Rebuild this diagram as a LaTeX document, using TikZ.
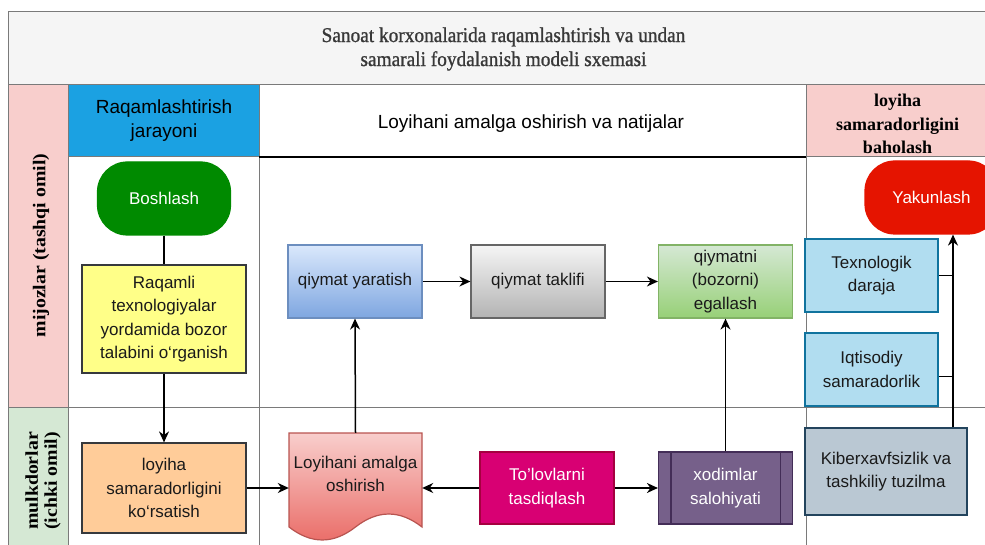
\documentclass[tikz,border=0pt]{standalone}
\usepackage{fontspec}
\setmainfont{Liberation Sans}
\newfontfamily\titlefont[FakeStretch=0.92,FakeBold=1]{Liberation Serif}
\newfontfamily\headfont{Liberation Serif}
\newfontfamily\lanefont[FakeStretch=1.1]{Liberation Serif}
\usetikzlibrary{arrows.meta}

\definecolor{titlefill}{HTML}{F5F5F5}
\definecolor{pinkfill}{HTML}{F8CECC}
\definecolor{greenfill}{HTML}{D5E8D4}
\definecolor{bluehead}{HTML}{1BA1E2}
\definecolor{laneline}{HTML}{7A7A7A}
\definecolor{darkline}{HTML}{36393D}
\definecolor{txtdark}{HTML}{1A1A1A}
\definecolor{startgreen}{HTML}{008A00}
\definecolor{endred}{HTML}{E51400}
\definecolor{yellowfill}{HTML}{FFFF88}
\definecolor{orangefill}{HTML}{FFCC99}
\definecolor{blueTop}{HTML}{DAE8FC}
\definecolor{blueBot}{HTML}{7EA6E0}
\definecolor{blueLine}{HTML}{6C8EBF}
\definecolor{grayTop}{HTML}{F5F5F5}
\definecolor{grayBot}{HTML}{B3B3B3}
\definecolor{grayLine}{HTML}{666666}
\definecolor{greenTop}{HTML}{D5E8D4}
\definecolor{greenBot}{HTML}{97D077}
\definecolor{greenLine}{HTML}{82B366}
\definecolor{docTop}{HTML}{F8CECC}
\definecolor{docBot}{HTML}{EA6B66}
\definecolor{docLine}{HTML}{B85450}
\definecolor{magfill}{HTML}{D80073}
\definecolor{magline}{HTML}{A50040}
\definecolor{purplefill}{HTML}{76608A}
\definecolor{purpleline}{HTML}{432D57}
\definecolor{skyfill}{HTML}{B1DDF0}
\definecolor{skyline}{HTML}{10739E}
\definecolor{slatefill}{HTML}{BAC8D3}
\definecolor{slateline}{HTML}{23445D}

\tikzset{
  txt/.style={font=\fontsize{17}{23.5}\selectfont, align=center, text=txtdark, inner sep=0pt},
  headtxt/.style={txt, font=\fontsize{19}{24}\selectfont, text=black},
  box/.style={txt, draw, line width=1.2pt},
  termbox/.style={box, rounded corners=30pt, text=white, minimum width=133pt, minimum height=73pt},
  lanetxt/.style={font=\lanefont\bfseries\fontsize{18}{19}\selectfont, align=center, rotate=90, inner sep=0pt},
  lane/.style={draw=laneline, line width=1pt},
  conn/.style={line width=1.5pt},
  arr/.style={conn, -{Stealth[length=11pt,width=10pt]}}
}

\begin{document}
\begin{tikzpicture}[x=1pt,y=-1pt]
	\useasboundingbox (0,0) rectangle (985,545);
	\clip (0,0) rectangle (985,545);

	\fill[titlefill] (8,12) rectangle (1000,85);
	\fill[pinkfill] (8,85) rectangle (68,407);
	\fill[greenfill] (8,407) rectangle (68,560);
	\fill[bluehead] (68,85) rectangle (259,157);
	\fill[pinkfill] (806,85) rectangle (1000,157);
	\draw[lane] (8,560) -- (8,12) -- (1000,12);
	\draw[lane] (8,85) -- (1000,85);
	\draw[lane] (8,407) -- (1000,407);
	\draw[lane] (68,85) -- (68,560);
	\draw[lane] (259,85) -- (259,560);
	\draw[lane] (806,85) -- (806,560);
	\draw[lane] (68,157) -- (259,157);
	\draw[lane] (806,157) -- (1000,157);
	\draw[black, line width=1.5pt] (259,157) -- (806,157);

	\node[txt, font=\titlefont\fontsize{21}{24}\selectfont, text=black!78] (title) at (503.5,49) {Sanoat korxonalarida raqamlashtirish va undan\\samarali foydalanish modeli sxemasi};
	\node[headtxt] (hraq) at (164,121) {Raqamlashtirish\\jarayoni};
	\node[headtxt] (hloy) at (531,124) {Loyihani amalga oshirish va natijalar};
	\node[txt, font=\headfont\bfseries\fontsize{18}{23.5}\selectfont, text=black] (hbah) at (897.5,124) {loyiha\\samaradorligini\\baholash};
	\node[lanetxt] (rmij) at (41,245.5) {mijozlar (tashqi omil)};
	\node[lanetxt] (rmul) at (43,481) {mulkdorlar\\(ichki omil)};

	\node[termbox, fill=startgreen, draw=startgreen] (bosh) at (164,198.5) {Boshlash};
	\node[box, fill=yellowfill, draw=darkline, minimum width=164pt, minimum height=108pt] (raq) at (164,319) {Raqamli\\texnologiyalar\\yordamida bozor\\talabini o‘rganish};
	\node[box, fill=orangefill, draw=darkline, minimum width=164pt, minimum height=90pt] (kor) at (164,488) {loyiha\\samaradorligini\\ko‘rsatish};

	\node[box, top color=blueTop, bottom color=blueBot, draw=blueLine, minimum width=134pt, minimum height=73pt] (yar) at (355,281.5) {qiymat yaratish};
	\node[box, top color=grayTop, bottom color=grayBot, draw=grayLine, minimum width=134pt, minimum height=73pt] (tak) at (538,281.5) {qiymat taklifi};
	\node[box, top color=greenTop, bottom color=greenBot, draw=greenLine, minimum width=134pt, minimum height=73pt] (ega) at (725.5,281.5) {qiymatni\\(bozorni)\\egallash};

	\path[top color=docTop, bottom color=docBot, draw=docLine, line width=1.2pt] (289,433) -- (422,433) -- (422,527) .. controls (399.8,509.7) and (377.7,509.7) .. (355.5,527) .. controls (333.3,544.3) and (311.2,544.3) .. (289,527) -- cycle;
	\node[txt, minimum width=133pt, minimum height=82pt] (doc) at (355.5,474) {Loyihani amalga\\oshirish};
	\node[box, fill=magfill, draw=magline, text=white, minimum width=134pt, minimum height=72pt] (tol) at (547,488) {To'lovlarni\\tasdiqlash};
	\node[box, fill=purplefill, draw=purpleline, text=white, minimum width=134pt, minimum height=72pt] (xod) at (725.5,488) {xodimlar\\salohiyati};
	\draw[purpleline, line width=1.2pt] ([xshift=13pt]xod.north west) -- ([xshift=13pt]xod.south west);
	\draw[purpleline, line width=1.2pt] ([xshift=-13pt]xod.north east) -- ([xshift=-13pt]xod.south east);

	\node[termbox, fill=endred, draw=endred] (yak) at (931.5,197.5) {Yakunlash};
	\node[box, fill=skyfill, draw=skyline, minimum width=133pt, minimum height=73pt] (tex) at (871.5,275.5) {Texnologik\\daraja};
	\node[box, fill=skyfill, draw=skyline, minimum width=133pt, minimum height=73pt] (iqt) at (871.5,369.5) {Iqtisodiy\\samaradorlik};
	\node[box, fill=slatefill, draw=slateline, minimum width=162pt, minimum height=87pt] (kib) at (886,471.5) {Kiberxavfsizlik va\\tashkiliy tuzilma};
	\coordinate (kibtop) at ([xshift=67pt]kib.north);

	\draw[conn] (bosh.south) -- (raq.north);
	\draw[arr] (raq.south) -- (kor.north);
	\draw[arr] (kor.east) -- (kor.east -| doc.west);
	\draw[arr] (doc.north) -- (yar.south);
	\draw[arr] (yar) -- (tak);
	\draw[arr] (tak) -- (ega);
	\draw[arr] (tol.west) -- (tol.west -| doc.east);
	\draw[arr] (tol) -- (xod);
	\draw[arr] (xod) -- (ega);
	\draw[arr] (kibtop) -- (kibtop |- yak.south);
	\draw[conn] (tex.east) -- (tex.east -| kibtop);
	\draw[conn] ([yshift=-7pt]iqt.east) -- ([yshift=-7pt]iqt.east -| kibtop);
\end{tikzpicture}
\end{document}
